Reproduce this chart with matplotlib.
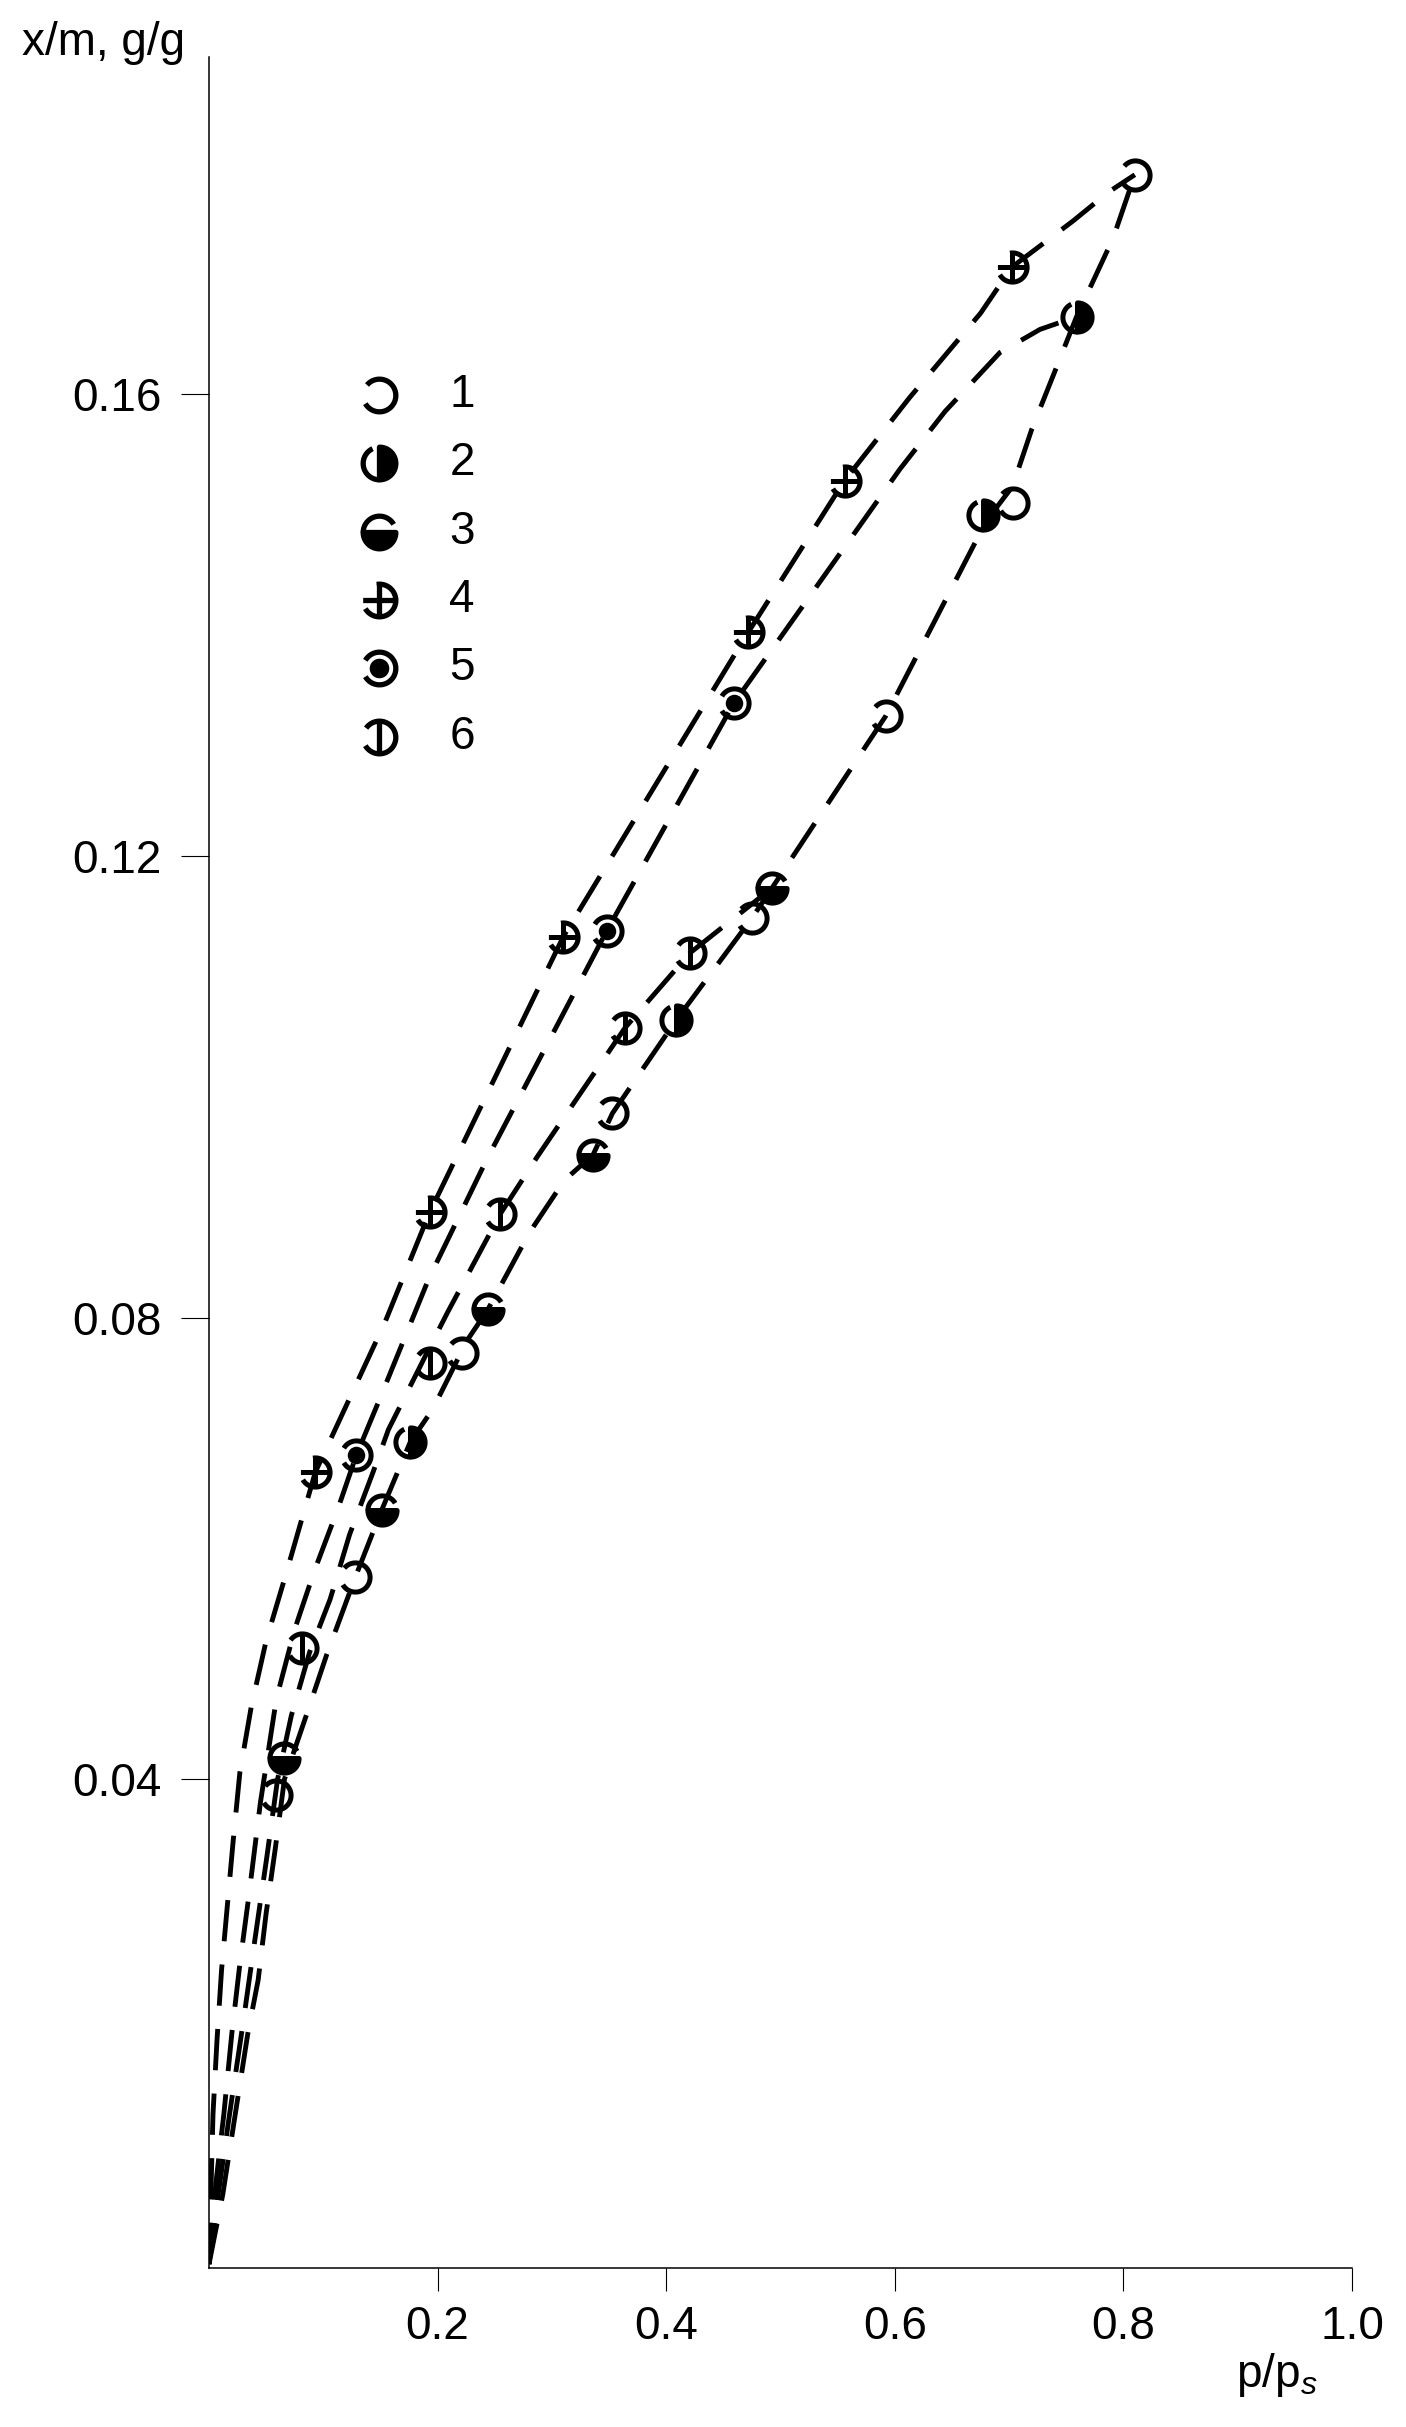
import numpy as np
import matplotlib
matplotlib.use('Agg')
import matplotlib.pyplot as plt
from matplotlib.path import Path

plt.rcParams['font.family'] = ['Liberation Sans', 'DejaVu Sans']
plt.rcParams['mathtext.fontset'] = 'custom'
plt.rcParams['mathtext.rm'] = 'Liberation Sans'
plt.rcParams['mathtext.it'] = 'Liberation Sans:italic'

# ---------------- data ----------------
series_labels = ['1', '2', '3', '4', '5', '6']

s1_x = [0.059, 0.128, 0.221, 0.353, 0.475, 0.592, 0.703, 0.810]
s1_y = [0.0386, 0.0575, 0.0769, 0.0977, 0.1146, 0.1321, 0.1506, 0.1790]
s2_x = [0.176, 0.409, 0.677, 0.759]
s2_y = [0.0692, 0.1058, 0.1495, 0.1667]
s3_x = [0.066, 0.151, 0.244, 0.336, 0.4925]
s3_y = [0.0418, 0.0633, 0.0807, 0.0941, 0.1172]
s4_x = [0.093, 0.193, 0.310, 0.472, 0.556, 0.7025]
s4_y = [0.0666, 0.0891, 0.1130, 0.1394, 0.1525, 0.1710]
s5_x = [0.129, 0.348, 0.459]
s5_y = [0.0681, 0.1135, 0.1332]
s6_x = [0.081, 0.193, 0.255, 0.364, 0.421]
s6_y = [0.0514, 0.0761, 0.0890, 0.1051, 0.1116]

# dashed curves
curveA_x = [0.0, 0.0035, 0.007, 0.011, 0.016, 0.021, 0.027, 0.037, 0.050, 0.068,
            0.093, 0.154, 0.193, 0.310, 0.472, 0.556, 0.613, 0.675, 0.7025, 0.756,
            0.787, 0.810]
curveA_y = [-0.002, 0.011, 0.0174, 0.0235, 0.029, 0.0345, 0.0406, 0.0463, 0.052, 0.058,
            0.0666, 0.0796, 0.0891, 0.1130, 0.1394, 0.1525, 0.1597, 0.1670, 0.1710, 0.1750,
            0.1775, 0.1790]

curveB_x = [0.0, 0.006, 0.013, 0.020, 0.027, 0.035, 0.045, 0.059, 0.075, 0.092,
            0.113, 0.129, 0.150, 0.192, 0.243, 0.348, 0.459, 0.6045, 0.644, 0.692,
            0.727, 0.759]
curveB_y = [-0.002, 0.005, 0.011, 0.018, 0.024, 0.030, 0.038, 0.047, 0.053, 0.058,
            0.0635, 0.0681, 0.0731, 0.0833, 0.0937, 0.1135, 0.1332, 0.1535, 0.1585, 0.1636,
            0.1656, 0.1667]

curveC_x = [0.0, 0.008, 0.018, 0.030, 0.040, 0.0505, 0.060, 0.072, 0.088, 0.106,
            0.123, 0.1435, 0.157, 0.193, 0.209, 0.255, 0.287, 0.364, 0.421, 0.4925]
curveC_y = [-0.002, 0.004, 0.011, 0.019, 0.026, 0.0332, 0.040, 0.0455, 0.051, 0.0556,
            0.0612, 0.0666, 0.0703, 0.0774, 0.0805, 0.0890, 0.0939, 0.1051, 0.1116, 0.1172]

curveD_x = [0.0, 0.012, 0.023, 0.034, 0.043, 0.050, 0.058, 0.066, 0.085, 0.103,
            0.128, 0.151, 0.176, 0.196, 0.2257, 0.244, 0.280, 0.311, 0.336, 0.353,
            0.409, 0.475, 0.4925, 0.592, 0.680, 0.703, 0.720, 0.743, 0.759, 0.791, 0.810]
curveD_y = [-0.002, 0.004, 0.011, 0.018, 0.0226, 0.0284, 0.034, 0.040, 0.0455, 0.0508,
            0.0575, 0.0633, 0.0692, 0.0721, 0.0780, 0.0807, 0.0873, 0.0919, 0.0941, 0.0977,
            0.1058, 0.1146, 0.1172, 0.1321, 0.1490, 0.1520, 0.1570, 0.1627, 0.1667, 0.1735, 0.1790]

x_ticks = [0.2, 0.4, 0.6, 0.8, 1.0]
x_ticklabels = ['0.2', '0.4', '0.6', '0.8', '1.0']
y_ticks = [0.04, 0.08, 0.12, 0.16]
y_ticklabels = ['0.04', '0.08', '0.12', '0.16']

# ---------------- marker shapes ----------------
def arc_pts(t1, t2, n=80):
    if t2 < t1:
        t2 += 360
    t = np.radians(np.linspace(t1, t2, n))
    return np.column_stack([np.cos(t), np.sin(t)])

def open_path(*pieces):
    verts, codes = [], []
    for p in pieces:
        p = np.asarray(p, float)
        verts.extend(p.tolist())
        codes.extend([Path.MOVETO] + [Path.LINETO] * (len(p) - 1))
    return Path(verts, codes)

def wedge_path(t1, t2):
    pts = arc_pts(t1, t2)
    verts = [(0, 0)] + pts.tolist() + [(0, 0)]
    codes = [Path.MOVETO] + [Path.LINETO] * (len(pts)) + [Path.CLOSEPOLY]
    return Path(verts, codes)

MARKERS = {
    '1': dict(outline=open_path(arc_pts(-150, 140))),
    '2': dict(outline=open_path(arc_pts(115, 270)), fill=wedge_path(-90, 90)),
    '3': dict(outline=open_path(arc_pts(30, 180)), fill=wedge_path(180, 360)),
    '4': dict(outline=open_path(arc_pts(-150, 100), [(-1, 0), (1, 0)], [(0, -1), (0, 1)])),
    '5': dict(outline=open_path(arc_pts(-150, 150)), dot=True),
    '6': dict(outline=open_path(arc_pts(-150, 145), [(0, -1), (0, 1)])),
}

def draw_marker(ax, kind, xs, ys, ms, lw, **kw):
    spec = MARKERS[kind]
    ax.plot(xs, ys, ls='none', marker=spec['outline'], ms=ms, mfc='none',
            mec='black', mew=lw, zorder=5, **kw)
    if spec.get('fill') is not None:
        ax.plot(xs, ys, ls='none', marker=spec['fill'], ms=ms, mfc='black',
                mec='black', mew=lw, zorder=5, **kw)
    if spec.get('dot'):
        ax.plot(xs, ys, ls='none', marker='o', ms=ms * 0.6, mfc='black',
                mec='none', mew=0, zorder=5, **kw)

# ---------------- figure ----------------
W, H = 1406, 2427
fig = plt.figure(figsize=(W / 100, H / 100), dpi=100)
ax = fig.add_axes([209 / W, 1 - 2268 / H, (1352 - 209) / W, (2268 - 57) / H])

ax.set_xlim(0, 1.0)
ax.set_ylim(-0.00234, 0.1892)

for cx, cy in [(curveA_x, curveA_y), (curveB_x, curveB_y),
               (curveC_x, curveC_y), (curveD_x, curveD_y)]:
    ax.plot(cx, cy, color='black', lw=3.5, ls=(0, (8.5, 4.8)),
            dash_capstyle='butt', solid_joinstyle='round', zorder=3)

series = [(s1_x, s1_y), (s2_x, s2_y), (s3_x, s3_y),
          (s4_x, s4_y), (s5_x, s5_y), (s6_x, s6_y)]
for lab, (sx, sy) in zip(series_labels, series):
    draw_marker(ax, lab, sx, sy, ms=21, lw=3.6)

# legend (manual, axes coordinates)
leg_y = [0.8471, 0.8164, 0.7852, 0.7544, 0.7237, 0.6924]
for lab, yy in zip(series_labels, leg_y):
    draw_marker(ax, lab, [0.1487], [yy], ms=23.5, lw=3.8,
                transform=ax.transAxes, clip_on=False)
    ax.text(0.2213, yy, lab, transform=ax.transAxes, ha='center', va='center',
            fontsize=33)

# axes styling
for side in ['top', 'right']:
    ax.spines[side].set_visible(False)
for side in ['left', 'bottom']:
    ax.spines[side].set_linewidth(1.1)

ax.set_xticks(x_ticks)
ax.set_xticklabels(x_ticklabels)
ax.set_yticks(y_ticks)
ax.set_yticklabels(y_ticklabels)
ax.tick_params(axis='x', direction='out', length=16.5, width=0.8, pad=10, labelsize=33)
ax.tick_params(axis='y', direction='out', length=20, width=0.8, pad=14, labelsize=33)

fig.text(22 / W, 1 - 55 / H, 'x/m, g/g', fontsize=33, ha='left', va='baseline')
fig.text(1236 / W, 1 - 2387 / H, r'p/p$_{\mathit{s}}$', fontsize=33, ha='left', va='baseline')

fig.savefig('out.png', dpi=100)
